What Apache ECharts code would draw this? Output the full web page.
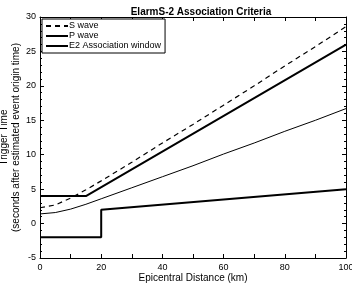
<!DOCTYPE html>
<html>
<head>
<meta charset="utf-8">
<script src="https://cdn.jsdelivr.net/npm/echarts@6/dist/echarts.min.js"></script>
<style>
  html, body { margin: 0; padding: 0; background: #fff; }
  #chart { width: 352px; height: 284px; }
</style>
</head>
<body>
<div id="chart"></div>
<script>
var dom = document.getElementById('chart');
var myChart = echarts.init(dom, null, { renderer: 'canvas' });

// S wave, P wave (distance km, seconds)
const sWave = [[0, 2.3], [5, 2.7], [10, 3.7], [15, 4.9], [20, 6.2], [30, 8.9], [40, 11.7], [50, 14.4],
  [60, 17.2], [70, 20.0], [80, 22.9], [90, 25.7], [100, 28.6]];
const pWave = [[0, 1.4], [5, 1.6], [10, 2.1], [15, 2.8], [20, 3.6], [30, 5.2], [40, 6.8], [50, 8.4],
  [60, 10.1], [70, 11.7], [80, 13.4], [90, 15.0], [100, 16.7]];
// E2 association window: upper and lower bounds
const winUpper = [[0, 4], [15, 4], [100, 26]];
const winLower = [[0, -2], [20, -2], [20, 2], [100, 5]];

const fontName = 'Liberation Sans';
var tickStyle = { color: '#000', width: 1 };

function axisCommon(extra) {
  return Object.assign({
    type: 'value',
    axisLine: { show: true, onZero: false, lineStyle: { color: '#000', width: 1 } },
    axisTick: { show: true, inside: true, length: 4, lineStyle: tickStyle },
    minorTick: { show: true, length: 2, lineStyle: tickStyle },
    splitLine: { show: false },
    axisLabel: { color: '#000', fontFamily: fontName, fontSize: 9 }
  }, extra);
}

var option = {
  animation: false,
  backgroundColor: '#fff',
  title: {
    text: 'ElarmS-2 Association Criteria',
    left: 196, top: 2, textAlign: 'center',
    textStyle: { fontFamily: fontName, fontSize: 10, fontWeight: 'bold', color: '#000' }
  },
  grid: { left: 40, right: 6, top: 17, bottom: 26, outerBoundsMode: 'none', containLabel: false },
  legend: {
    left: 42, top: 19, orient: 'vertical',
    itemWidth: 22, itemHeight: 8, itemGap: 0,
    padding: [2, 4, 2, 3],
    borderColor: '#000', borderWidth: 1, backgroundColor: '#fff',
    itemStyle: { opacity: 0 },
    textStyle: { fontFamily: fontName, fontSize: 9, lineHeight: 10, color: '#000', padding: [0, 0, 0, -4] },
    data: ['S wave', 'P wave', 'E2 Association window']
  },
  xAxis: [
    axisCommon({ min: 0, max: 100, interval: 20, minorTick: { show: true, splitNumber: 2, length: 4, lineStyle: tickStyle },
      name: 'Epicentral Distance (km)', nameLocation: 'middle', nameGap: 15, nameMoveOverlap: false,
      nameTextStyle: { fontFamily: fontName, fontSize: 10, color: '#000' },
      axisLabel: { color: '#000', fontFamily: fontName, fontSize: 9, margin: 5 } }),
    axisCommon({ min: 0, max: 100, interval: 20, position: 'top', axisLabel: { show: false },
      minorTick: { show: true, splitNumber: 2, length: 4, lineStyle: tickStyle } })
  ],
  yAxis: [
    axisCommon({ min: -5, max: 30, interval: 5, minorTick: { show: true, splitNumber: 5, length: 2, lineStyle: tickStyle },
      name: 'Trigger Time\n(seconds after estimated event origin time)', nameLocation: 'middle', nameGap: 18, nameMoveOverlap: false,
      nameTextStyle: { fontFamily: fontName, fontSize: 10, color: '#000', lineHeight: 12 },
      axisLabel: { color: '#000', fontFamily: fontName, fontSize: 9, margin: 4 } }),
    axisCommon({ min: -5, max: 30, interval: 5, position: 'right', axisLabel: { show: false },
      minorTick: { show: true, splitNumber: 5, length: 2, lineStyle: tickStyle } })
  ],
  series: [
    { name: 'S wave', type: 'line', data: sWave, symbol: 'none',
      lineStyle: { color: '#000', width: 1.2, type: [5, 4] }, itemStyle: { color: '#000' } },
    { name: 'P wave', type: 'line', data: pWave, symbol: 'none',
      lineStyle: { color: '#000', width: 1 }, itemStyle: { color: '#000' } },
    { name: 'E2 Association window', type: 'line', data: winUpper, symbol: 'none',
      lineStyle: { color: '#000', width: 2 }, itemStyle: { color: '#000' } },
    { name: 'E2 Association window', type: 'line', data: winLower, symbol: 'none',
      lineStyle: { color: '#000', width: 2 }, itemStyle: { color: '#000' } }
  ]
};

myChart.setOption(option);
window.addEventListener('resize', myChart.resize);
</script>
</body>
</html>
